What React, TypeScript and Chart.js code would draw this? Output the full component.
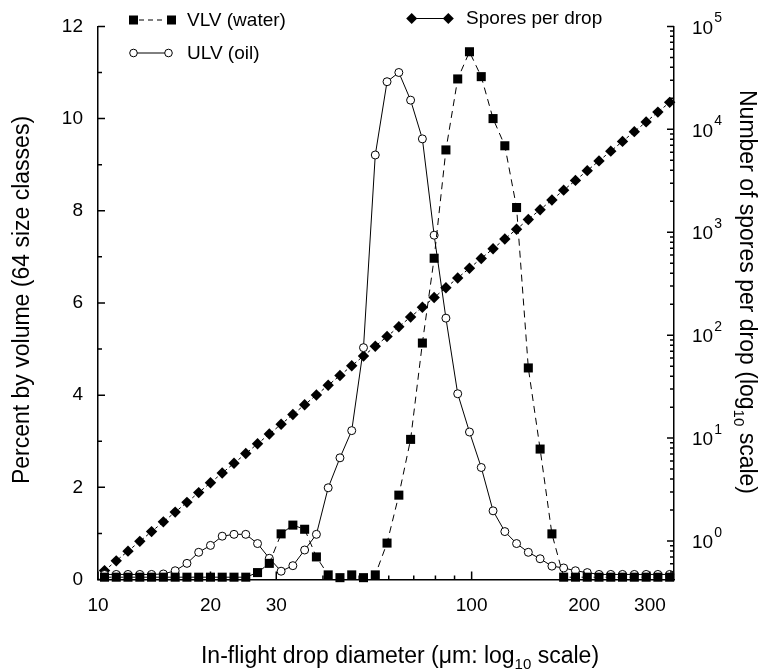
import React, { useEffect, useRef } from 'react';
import { Chart, registerables } from 'chart.js';

Chart.register(...registerables);

// In-flight drop diameter classes (µm)
const diameters = [
  10.41, 11.19, 12.03, 12.94, 13.91, 14.96, 16.09, 17.3, 18.6, 20.0,
  21.5, 23.12, 24.86, 26.73, 28.74, 30.91, 33.23, 35.73, 38.42, 41.31,
  44.42, 47.76, 51.35, 55.22, 59.37, 63.85, 68.65, 73.82, 79.37, 85.34,
  91.77, 98.67, 106.1, 114.1, 122.7, 131.9, 141.8, 152.5, 164.0, 176.3,
  189.6, 203.9, 219.2, 235.7, 253.4, 272.5, 293.1, 315.1, 338.8,
];

// Percent by volume, VLV (water)
const vlvWater = [
  0.05, 0.05, 0.05, 0.05, 0.05, 0.05, 0.05, 0.05, 0.05, 0.05,
  0.05, 0.05, 0.05, 0.15, 0.35, 0.99, 1.18, 1.09, 0.49, 0.1,
  0.04, 0.1, 0.04, 0.1, 0.79, 1.83, 3.04, 5.13, 6.97, 9.32,
  10.86, 11.45, 10.91, 10.0, 9.41, 8.07, 4.59, 2.83, 0.99, 0.05,
  0.05, 0.05, 0.05, 0.05, 0.05, 0.05, 0.05, 0.05, 0.05,
];

// Percent by volume, ULV (oil)
const ulvOil = [
  0.11, 0.11, 0.11, 0.11, 0.11, 0.12, 0.19, 0.35, 0.59, 0.74,
  0.94, 0.98, 0.98, 0.78, 0.46, 0.18, 0.3, 0.64, 0.98, 1.99,
  2.64, 3.23, 5.03, 9.21, 10.8, 11.0, 10.4, 9.56, 7.47, 5.67,
  4.03, 3.2, 2.43, 1.49, 1.04, 0.78, 0.59, 0.45, 0.29, 0.25,
  0.19, 0.15, 0.11, 0.11, 0.11, 0.11, 0.11, 0.11, 0.11,
];

// Number of spores per drop
const sporesPerDrop = [
  0.516, 0.642, 0.798, 0.993, 1.235, 1.536, 1.911, 2.377, 2.956, 3.678,
  4.575, 5.69, 7.078, 8.805, 10.95, 13.62, 16.94, 21.08, 26.21, 32.61,
  40.56, 50.45, 62.76, 78.07, 97.1, 120.8, 150.3, 186.9, 232.5, 289.2,
  359.7, 447.5, 556.6, 692.3, 861.0, 1071, 1332, 1657, 2061, 2564,
  3189, 3967, 4935, 6138, 7636, 9497, 11814, 14696, 18278,
];

const xMajorTicks = [10, 20, 30, 100, 200, 300];
const xMinorTicks = [40, 50, 60, 70, 80, 90];
const leftMajorTicks = [0, 2, 4, 6, 8, 10, 12];
const leftMinorTicks = [1, 3, 5, 7, 9, 11];
const rightDecadeExponents = [0, 1, 2, 3, 4, 5];
const rightMinorMultipliers = [2, 3, 4, 5, 6, 7, 8, 9];

const X_MIN = 10;
const X_MAX = 348;
const Y_MAX = 12;
const Y2_MIN = 0.423;
const Y2_MAX = 100000;

const FONT = "'Liberation Sans', Arial, Helvetica, sans-serif";

type Part = { t: string; sub?: boolean; sup?: boolean };

function drawRich(ctx: CanvasRenderingContext2D, parts: Part[], cx: number, cy: number, rot: number, size: number) {
  const small = Math.round(size * 0.65);
  const fontFor = (p: Part) => `${p.sub || p.sup ? small : size}px ${FONT}`;
  let total = 0;
  const widths = parts.map((p) => {
    ctx.font = fontFor(p);
    const w = ctx.measureText(p.t).width;
    total += w;
    return w;
  });
  ctx.save();
  ctx.translate(cx, cy);
  ctx.rotate(rot);
  ctx.textBaseline = 'alphabetic';
  ctx.textAlign = 'left';
  ctx.fillStyle = '#000';
  let x = -total / 2;
  const base = size * 0.36;
  parts.forEach((p, i) => {
    ctx.font = fontFor(p);
    const dy = p.sub ? size * 0.25 : p.sup ? -size * 0.42 : 0;
    ctx.fillText(p.t, x, base + dy);
    x += widths[i];
  });
  ctx.restore();
}

const decorPlugin = {
  id: 'decor',
  afterDraw(chart: any) {
    const ctx: CanvasRenderingContext2D = chart.ctx;
    const xs = chart.scales.x;
    const ys = chart.scales.y;
    const y2 = chart.scales.y2;
    const a = chart.chartArea;
    ctx.save();
    ctx.strokeStyle = '#000';
    ctx.lineWidth = 1.5;
    ctx.setLineDash([]);
    ctx.beginPath();
    xMajorTicks.forEach((v) => {
      const px = xs.getPixelForValue(v);
      ctx.moveTo(px, a.bottom);
      ctx.lineTo(px, a.bottom - 8);
    });
    xMinorTicks.forEach((v) => {
      const px = xs.getPixelForValue(v);
      ctx.moveTo(px, a.bottom);
      ctx.lineTo(px, a.bottom - 4);
    });
    leftMajorTicks.forEach((v) => {
      const py = ys.getPixelForValue(v);
      ctx.moveTo(a.left, py);
      ctx.lineTo(a.left + 7, py);
    });
    leftMinorTicks.forEach((v) => {
      const py = ys.getPixelForValue(v);
      ctx.moveTo(a.left, py);
      ctx.lineTo(a.left + 4, py);
    });
    [-1, ...rightDecadeExponents].forEach((k) => {
      const dec = Math.pow(10, k);
      if (dec >= Y2_MIN && dec <= Y2_MAX) {
        const py = y2.getPixelForValue(dec);
        ctx.moveTo(a.right, py);
        ctx.lineTo(a.right - 7, py);
      }
      rightMinorMultipliers.forEach((m) => {
        const v = m * dec;
        if (v < Y2_MIN || v > Y2_MAX) return;
        const py = y2.getPixelForValue(v);
        ctx.moveTo(a.right, py);
        ctx.lineTo(a.right - 4, py);
      });
    });
    ctx.stroke();

    // right axis labels 10^k
    ctx.fillStyle = '#000';
    rightDecadeExponents.forEach((k) => {
      const py = y2.getPixelForValue(Math.pow(10, k));
      ctx.font = `19px ${FONT}`;
      ctx.textAlign = 'left';
      ctx.textBaseline = 'middle';
      const lx = a.right + 18;
      ctx.fillText('10', lx, py + 2);
      const w = ctx.measureText('10').width;
      ctx.font = `14px ${FONT}`;
      ctx.fillText(String(k), lx + w + 1, py - 8);
    });

    // axis titles
    drawRich(ctx, [{ t: 'Percent by volume (64 size classes)' }], 21, 300, -Math.PI / 2, 23);
    drawRich(
      ctx,
      [{ t: 'In-flight drop diameter (\u03BCm: log' }, { t: '10', sub: true }, { t: ' scale)' }],
      400,
      655,
      0,
      23
    );
    drawRich(
      ctx,
      [{ t: 'Number of spores per drop (log' }, { t: '10', sub: true }, { t: ' scale)' }],
      748,
      292,
      Math.PI / 2,
      23
    );

    // legend
    ctx.lineWidth = 1;
    ctx.strokeStyle = '#000';
    // VLV
    ctx.setLineDash([5, 4]);
    ctx.beginPath();
    ctx.moveTo(139, 20);
    ctx.lineTo(166, 20);
    ctx.stroke();
    ctx.setLineDash([]);
    ctx.fillStyle = '#000';
    ctx.fillRect(129, 15.5, 9, 9);
    ctx.fillRect(167, 15.5, 9, 9);
    // ULV
    ctx.beginPath();
    ctx.moveTo(137, 53);
    ctx.lineTo(165, 53);
    ctx.stroke();
    [133.5, 168.5].forEach((cx) => {
      ctx.beginPath();
      ctx.arc(cx, 53, 3.8, 0, Math.PI * 2);
      ctx.fillStyle = '#fff';
      ctx.fill();
      ctx.stroke();
    });
    // Spores
    ctx.beginPath();
    ctx.moveTo(412, 18.5);
    ctx.lineTo(448, 18.5);
    ctx.stroke();
    ctx.fillStyle = '#000';
    [411.7, 448.3].forEach((cx) => {
      ctx.beginPath();
      ctx.moveTo(cx, 18.5 - 5.5);
      ctx.lineTo(cx + 5.5, 18.5);
      ctx.lineTo(cx, 18.5 + 5.5);
      ctx.lineTo(cx - 5.5, 18.5);
      ctx.closePath();
      ctx.fill();
    });
    ctx.font = `19px ${FONT}`;
    ctx.textAlign = 'left';
    ctx.textBaseline = 'middle';
    ctx.fillText('VLV (water)', 187, 21);
    ctx.fillText('ULV (oil)', 187, 54);
    ctx.fillText('Spores per drop', 466, 19);
    ctx.restore();
  },
};

export default function App() {
  const ref = useRef<HTMLCanvasElement | null>(null);
  useEffect(() => {
    if (!ref.current) return;
    const pts = (vals: number[]) => diameters.map((d, i) => ({ x: d, y: vals[i] }));
    const chart = new Chart(ref.current, {
      type: 'line',
      data: {
        datasets: [
          {
            label: 'VLV (water)',
            data: pts(vlvWater),
            yAxisID: 'y',
            borderColor: '#000',
            borderWidth: 1,
            borderDash: [7, 5],
            pointStyle: 'rect',
            pointRadius: 6.4,
            pointBackgroundColor: '#000',
            pointBorderColor: '#000',
            pointBorderWidth: 0,
            fill: false,
            tension: 0,
            clip: false,
          },
          {
            label: 'ULV (oil)',
            data: pts(ulvOil),
            yAxisID: 'y',
            borderColor: '#000',
            borderWidth: 1,
            pointStyle: 'circle',
            pointRadius: 4,
            pointBackgroundColor: '#fff',
            pointBorderColor: '#000',
            pointBorderWidth: 1,
            fill: false,
            tension: 0,
            clip: false,
          },
          {
            label: 'Spores per drop',
            data: pts(sporesPerDrop),
            yAxisID: 'y2',
            borderColor: '#000',
            borderWidth: 1,
            borderDash: [3, 3],
            pointStyle: 'rectRot',
            pointRadius: 5.7,
            pointBackgroundColor: '#000',
            pointBorderColor: '#000',
            pointBorderWidth: 0,
            fill: false,
            tension: 0,
            clip: false,
          },
        ],
      } as any,
      options: {
        animation: false,
        responsive: false,
        maintainAspectRatio: false,
        devicePixelRatio: 1,
        layout: { padding: { top: 25, left: 0, right: 0, bottom: 0 } },
        plugins: { legend: { display: false }, tooltip: { enabled: false } },
        scales: {
          x: {
            type: 'logarithmic',
            min: X_MIN,
            max: X_MAX,
            grid: { display: false, drawTicks: false },
            border: { display: true, color: '#000', width: 1.5 },
            afterBuildTicks: (s: any) => {
              s.ticks = xMajorTicks.map((v) => ({ value: v }));
            },
            ticks: {
              autoSkip: false,
              maxRotation: 0,
              padding: 15,
              color: '#000',
              font: { family: FONT, size: 19 },
              callback: (v: any) => String(v),
            },
            afterFit: (s: any) => {
              s.height = 90.5;
            },
          },
          y: {
            type: 'linear',
            position: 'left',
            min: 0,
            max: Y_MAX,
            grid: { display: false, drawTicks: false },
            border: { display: true, color: '#000', width: 1.5 },
            afterBuildTicks: (s: any) => {
              s.ticks = leftMajorTicks.map((v) => ({ value: v }));
            },
            ticks: {
              padding: 15,
              color: '#000',
              font: { family: FONT, size: 19 },
            },
            afterFit: (s: any) => {
              s.width = 98;
            },
          },
          y2: {
            type: 'logarithmic',
            position: 'right',
            min: Y2_MIN,
            max: Y2_MAX,
            grid: { display: false, drawTicks: false },
            border: { display: true, color: '#000', width: 1.5 },
            ticks: { display: false },
            afterFit: (s: any) => {
              s.width = 88;
            },
          },
        },
      } as any,
      plugins: [decorPlugin],
    });
    return () => chart.destroy();
  }, []);
  return (
    <div style={{ position: 'absolute', left: 0, top: 0, width: 762, height: 670, background: '#fff' }}>
      <canvas ref={ref} width={762} height={670} style={{ width: 762, height: 670, display: 'block' }} />
    </div>
  );
}
